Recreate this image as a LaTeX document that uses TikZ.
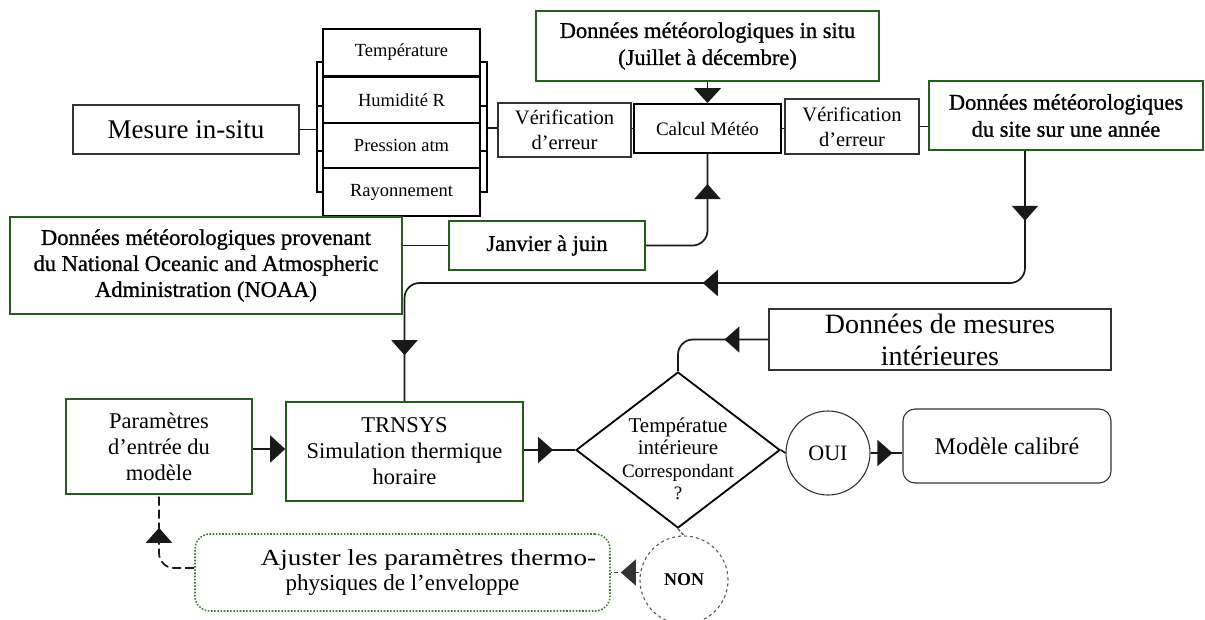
\documentclass[tikz,border=0pt]{standalone}
\usepackage{fontspec}
\usepackage{graphicx}
\setmainfont{Liberation Serif}
\newfontfamily\semibold[FakeBold=1]{Liberation Serif}
\usetikzlibrary{arrows.meta,shapes.geometric,decorations.markings}
\newcommand\fsz[2]{\fontsize{#1}{#2}\selectfont}
\definecolor{boxgreen}{RGB}{38,92,32}
\definecolor{dotgreen}{RGB}{60,130,40}
\tikzset{
  plainbox/.style={draw=black!80, line width=1.1pt, inner sep=0pt, align=center},
  greenbox/.style={draw=boxgreen, line width=1.6pt, inner sep=0pt, align=center},
  stackbox/.style={draw=black, line width=1.8pt, inner sep=0pt, minimum width=157pt, align=center, font=\fsz{18.5}{22}},
  link/.style={line width=1.7pt, black!90},
  tipat/.style={postaction={decorate,decoration={markings,
      mark=at position #1 with {\arrow{Triangle[width=26pt,length=15pt]}}}}},
  endtip/.style={-{Triangle[width=27pt,length=15pt]}},
}
\begin{document}
\begin{tikzpicture}[x=1pt,y=-1pt]
\useasboundingbox (0,0) rectangle (1205,619);

% --- in-situ measurements ---
\node[plainbox, minimum width=226pt, minimum height=49pt, font=\fsz{27}{30}] (mes) at (186,129.5) {Mesure in-situ};
\node[stackbox, minimum height=47pt] (temp) at (401.5,52.5) {Température};
\node[stackbox, minimum height=46pt] (hum)  at (401.5,100) {Humidité R};
\node[stackbox, minimum height=45pt] (pres) at (401.5,145.5) {Pression atm};
\node[stackbox, minimum height=48pt] (ray)  at (401.5,192) {Rayonnement};

% brackets on both sides of the stack
\coordinate (bl) at (317,129.5);
\coordinate (br) at (487,128);
\draw[line width=1.8pt] (323,62) -- (317,62) -- (317,192) -- (323,192);
\draw[line width=1.8pt] (317,106) -- (323,106) (317,151) -- (323,151);
\draw[line width=1.8pt] (480,62) -- (487,62) -- (487,192) -- (480,192);
\draw[line width=1.8pt] (480,106) -- (487,106) (480,151) -- (487,151);

% --- error checks and weather computation ---
\node[plainbox, minimum width=133pt, minimum height=54pt, font=\fsz{20.5}{25}] (v1) at (564.5,130) {Vérification\\d’erreur};
\node[draw=black, line width=2pt, inner sep=0pt, minimum width=147pt, minimum height=49pt, font=\fsz{19}{22}] (calc) at (707.5,128.5) {Calcul Météo};
\node[plainbox, minimum width=134pt, minimum height=55pt, font=\fsz{20.5}{25}] (v2) at (852,126.5) {Vérification\\d’erreur};
\node[greenbox, minimum width=343pt, minimum height=70pt, font=\semibold\fsz{22.5}{27}] (insitu) at (707.5,46) {Données météorologiques in situ\\(Juillet à décembre)};
\node[greenbox, minimum width=274pt, minimum height=69pt, font=\semibold\fsz{22.5}{27}] (site) at (1066,115.5) {Données météorologiques\\du site sur une année};
\node[greenbox, minimum width=392pt, minimum height=97pt, font=\semibold\fsz{22.5}{26}] (noaa) at (206,265.5) {Données météorologiques provenant\\du National Oceanic and Atmospheric\\Administration (NOAA)};
\node[greenbox, minimum width=196pt, minimum height=49pt, font=\semibold\fsz{22.5}{26}] (jan) at (547,245.5) {Janvier à juin};

% --- simulation and calibration loop ---
\node[greenbox, minimum width=186pt, minimum height=95pt, font=\fsz{22.5}{26}] (par) at (159,446.5) {Paramètres\\d’entrée du\\modèle};
\node[greenbox, minimum width=237pt, minimum height=99pt, font=\fsz{22.5}{26}] (trn) at (404.5,451.5) {TRNSYS\\Simulation thermique\\horaire};
\node[diamond, draw, line width=1.8pt, inner sep=0pt, aspect=1.31, minimum width=204pt, minimum height=156pt] (dia) at (678,450) {};
\node[align=center, inner sep=0pt, font=\fsz{21}{22.5}] (dialbl) at (678,459) {Températue\\intérieure\\{\fsz{19}{22.5}Correspondant}\\{\fsz{19}{22.5}?}};
\node[plainbox, minimum width=342pt, minimum height=61pt, font=\fsz{28}{32}] (meas) at (940,339.5) {Données de mesures\\intérieures};
\node[circle, draw=black!80, line width=1.1pt, minimum size=84pt, inner sep=0pt, font=\fsz{22}{24}] (oui) at (828,453) {OUI};
\node[draw=black!80, line width=1.1pt, rounded corners=12pt, minimum width=208pt, minimum height=74pt, inner sep=0pt, font=\fsz{24}{26}] (calib) at (1007,446) {Modèle calibré};
\node[circle, draw=black!65, dashed, line width=1.1pt, minimum size=88pt, inner sep=0pt, font=\bfseries\fsz{18}{20}] (non) at (684,580) {NON};
\node[draw=dotgreen, line width=1.6pt, dash pattern=on 1.6pt off 1.6pt, rounded corners=15pt, minimum width=415pt, minimum height=77pt, inner sep=0pt, align=center, font=\fsz{23}{25}] (adj) at (402.5,572.5)
  {\hspace*{52pt}\scalebox{1.18}[1]{Ajuster les paramètres thermo-}\\physiques de l’enveloppe};

% --- connectors, top part ---
\draw[link] (mes.east) -- (bl);
\draw[link] (br) -- (v1.west |- br);
\draw[link] (calc.west -| v1.east) -- (calc.west);
\draw[link] (calc.east) -- (calc.east -| v2.west);
\draw[link] (v2.east) -- (site.west |- v2.east);
\draw[link, endtip] (insitu.south) -- (calc.north);
\draw[link] (noaa.east |- jan.west) -- (jan.west);
\draw[link, rounded corners=15pt, tipat=-30pt] (jan.east) -- (calc.south |- jan.east) -- (calc.south);
\draw[link, rounded corners=15pt, tipat=70pt, tipat=448pt, tipat=-46pt]
  (site.south -| 1025,0) -- (1025,283) -- (trn.north |- 0,283) -- (trn.north);

% --- connectors, bottom part ---
\draw[link, endtip] (par.east |- 0,449) -- (trn.west |- 0,449);
\draw[link, tipat=-22pt] (trn.east |- dia.west) -- (dia.west);
\draw[link, rounded corners=15pt, tipat=44pt] (meas.west) -- (dia.north |- meas.west) -- (dia.north);
\draw[link] (dia.east) -- (oui.west);
\draw[link, tipat=-10pt] (oui.east) -- (calib.west |- oui.east);
\draw[line width=1.3pt, black!70, dash pattern=on 3pt off 2pt] (dia.south) -- (non.north);
\draw[line width=1.3pt, black!80, dash pattern=on 4pt off 3pt, tipat=-10pt] (non.west |- adj.east) -- (adj.east);
\draw[link, dash pattern=on 9pt off 4pt, rounded corners=15pt, tipat=-33pt] (adj.west |- 0,568) -- (par.south |- 0,568) -- (par.south);
\end{tikzpicture}
\end{document}
